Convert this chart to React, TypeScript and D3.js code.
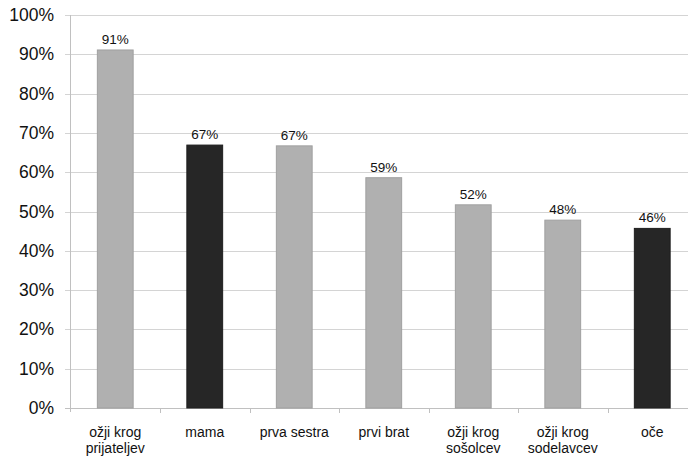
import React from "react";
import * as d3 from "d3";

const categories = ["ožji krog|prijateljev", "mama", "prva sestra", "prvi brat", "ožji krog|sošolcev", "ožji krog|sodelavcev", "oče"];
const values = [0.911, 0.669, 0.667, 0.586, 0.517, 0.478, 0.457];
const valueLabels = ["91%", "67%", "67%", "59%", "52%", "48%", "46%"];
const highlighted = [false, true, false, false, false, false, true];
const yTicks = [0, 0.1, 0.2, 0.3, 0.4, 0.5, 0.6, 0.7, 0.8, 0.9, 1.0];

const W = 688, H = 456;
const left = 70.5, right = 697, top = 15, bottom = 408;

export default function App() {
  const x = d3.scaleBand<number>().domain(d3.range(categories.length)).range([left, right]).paddingInner(0).paddingOuter(0);
  const y = d3.scaleLinear().domain([0, 1]).range([bottom, top]);
  const bw = x.bandwidth() * 0.4;
  const font = "'Liberation Sans', Arial, sans-serif";
  return (
    <svg width={W} height={H} style={{ position: "absolute", left: 0, top: 0, background: "#fff" }} fontFamily={font}>
      {yTicks.map((t) => (
        <g key={t}>
          <line x1={65} x2={right} y1={Math.round(y(t)) + 0.5} y2={Math.round(y(t)) + 0.5} stroke={t === 0 ? "#c0c0c0" : "#d4d4d4"} strokeWidth={1} />
          <text x={54} y={y(t) + 6} textAnchor="end" fontSize={17.5} fill="#111">{d3.format(".0%")(t)}</text>
        </g>
      ))}
      <line x1={left} x2={left} y1={top} y2={bottom + 4} stroke="#c0c0c0" />
      {categories.map((_, i) => (
        <line key={"t" + i} x1={Math.round((x(i) as number) + x.bandwidth()) + 0.5} x2={Math.round((x(i) as number) + x.bandwidth()) + 0.5} y1={bottom} y2={bottom + 5} stroke="#c0c0c0" />
      ))}
      {values.map((v, i) => {
        const cx = (x(i) as number) + x.bandwidth() / 2;
        return (
          <g key={"b" + i}>
            <rect x={cx - bw / 2} y={y(v)} width={bw} height={bottom - y(v)} fill={highlighted[i] ? "#262626" : "#b0b0b0"} stroke={highlighted[i] ? "#1e1e1e" : "#a0a0a0"} strokeWidth={1} />
            <text x={cx} y={y(v) - 6} textAnchor="middle" fontSize={13.5} fill="#111">{valueLabels[i]}</text>
          </g>
        );
      })}
      {categories.map((c, i) => {
        const cx = (x(i) as number) + x.bandwidth() / 2;
        const lines = c.split("|");
        return (
          <text key={"c" + i} x={cx} textAnchor="middle" fontSize={14} fill="#111">
            {lines.map((l, j) => (
              <tspan key={j} x={cx} y={437 + j * 16}>{l}</tspan>
            ))}
          </text>
        );
      })}
    </svg>
  );
}
